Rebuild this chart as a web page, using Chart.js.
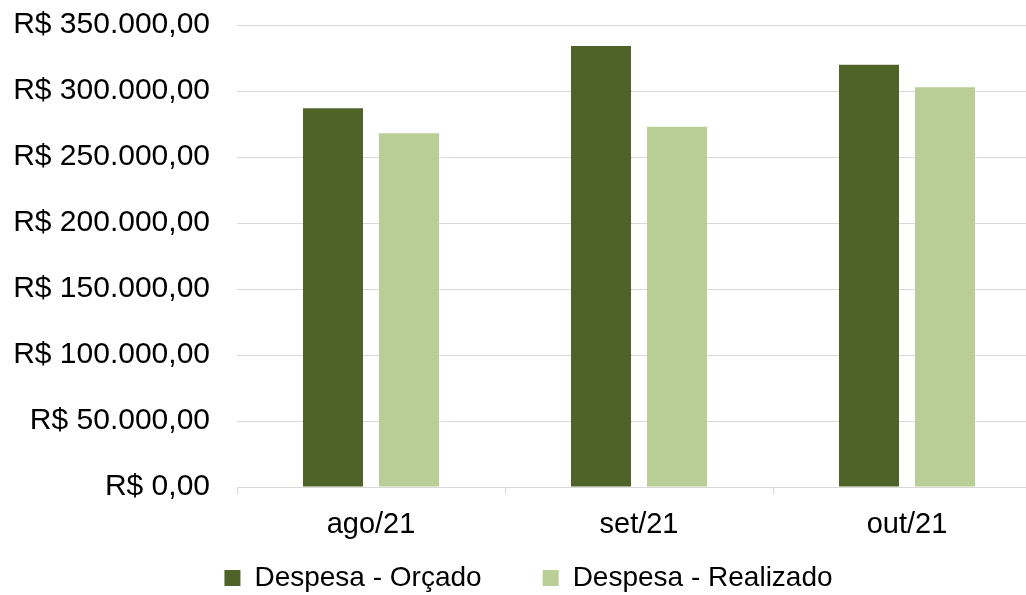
<!DOCTYPE html>
<html><head><meta charset="utf-8">
<script src="https://cdn.jsdelivr.net/npm/chart.js@4"></script>
<style>
html,body{margin:0;padding:0;overflow:hidden;background:#fff}
#wrap{width:1045px;height:595px;position:relative}
</style>
</head><body><div id="wrap"><canvas id="c"></canvas></div>
<script>
const categories = ['ago/21', 'set/21', 'out/21'];
const orcado = [286900, 334100, 319900];
const realizado = [268000, 273000, 302800];
const seriesNames = ['Despesa - Orçado', 'Despesa - Realizado'];
const yTicks = [0, 50000, 100000, 150000, 200000, 250000, 300000, 350000];

function brl(v) {
  const s = Math.round(v).toString().replace(/\B(?=(\d{3})+(?!\d))/g, '.');
  return 'R$ ' + s + ',00';
}

const FAM = "'Liberation Sans', Arial, sans-serif";
const LEGEND_H = 52;
const LEGEND_SHIFT = -40;
const LEGEND_LEFT_INSET = 16;

// keep the wide item spacing of the legend but a compact legend box height
const LegendEl = Chart.Legend && Chart.Legend._element;
if (LegendEl) {
  const origFit = LegendEl.prototype.fit;
  LegendEl.prototype.fit = function () {
    origFit.call(this);
    if (this.isHorizontal()) this.height = LEGEND_H;
  };
}

const legendShift = {
  id: 'legendShift',
  beforeDraw(chart) {
    const lg = chart.legend;
    if (lg && !lg._shifted) { lg.top += LEGEND_SHIFT; lg.left += LEGEND_LEFT_INSET; lg._shifted = true; }
  },
  afterLayout(chart) { if (chart.legend) chart.legend._shifted = false; }
};

new Chart(document.getElementById('c'), {
  type: 'bar',
  data: {
    labels: categories,
    datasets: [
      { label: seriesNames[0], data: orcado, backgroundColor: '#4F6228', borderWidth: 0,
        categoryPercentage: 0.567, barPercentage: 0.79 },
      { label: seriesNames[1], data: realizado, backgroundColor: '#B9CF96', borderWidth: 0,
        categoryPercentage: 0.567, barPercentage: 0.79 }
    ]
  },
  plugins: [legendShift],
  options: {
    responsive: true,
    maintainAspectRatio: false,
    devicePixelRatio: 1,
    animation: false,
    layout: { padding: { top: 25, left: 0, right: 4, bottom: 0 } },
    plugins: {
      tooltip: { enabled: false },
      legend: {
        position: 'bottom',
        labels: { font: { family: FAM, size: 28 }, color: '#000', boxWidth: 16, boxHeight: 16, padding: 61 }
      }
    },
    scales: {
      x: {
        afterFit: s => { s.height = 56; },
        grid: { offset: true, drawOnChartArea: false, drawTicks: true, tickLength: 7, color: '#d9d9d9' },
        border: { color: '#d9d9d9' },
        ticks: { font: { family: FAM, size: 29 }, color: '#000', padding: 14 }
      },
      y: {
        min: yTicks[0], max: yTicks[yTicks.length - 1],
        afterFit: s => { s.width = 237; s.paddingTop = 0; s.paddingBottom = 0; },
        afterBuildTicks: s => { s.ticks = yTicks.map(v => ({ value: v })); },
        grid: { color: '#d9d9d9', drawTicks: false },
        border: { display: false },
        ticks: { font: { family: FAM, size: 30 }, color: '#000', padding: 27, callback: v => brl(v) }
      }
    }
  }
});
</script>
</body></html>
